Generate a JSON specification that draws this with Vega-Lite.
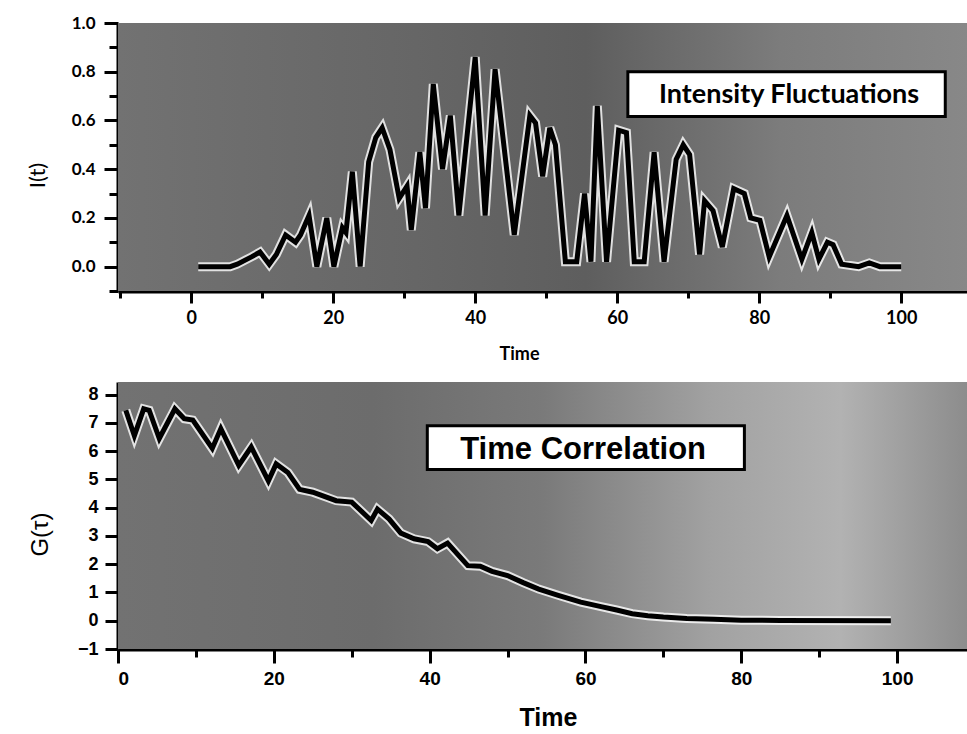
{
  "$schema": "https://vega.github.io/schema/vega-lite/v6.json",
  "background": "white",
  "padding": {"left": 26, "top": 14, "right": 0, "bottom": 0},
  "spacing": 19,
  "config": {
    "view": {"stroke": null},
    "axis": {
      "grid": false,
      "domainColor": "black",
      "domainWidth": 4,
      "tickColor": "black",
      "tickWidth": 3,
      "labelColor": "black",
      "titleColor": "black",
      "labelFontWeight": "bold",
      "labelOverlap": false
    }
  },
  "datasets": {
    "intensity": [
      {"t": 1, "I": 0.0}, {"t": 3, "I": 0.0}, {"t": 5.5, "I": 0.0}, {"t": 6.5, "I": 0.01},
      {"t": 8.5, "I": 0.04}, {"t": 9.7, "I": 0.06}, {"t": 11, "I": 0.01}, {"t": 12, "I": 0.05},
      {"t": 13.3, "I": 0.13}, {"t": 14.7, "I": 0.10}, {"t": 15.4, "I": 0.13}, {"t": 16.6, "I": 0.21},
      {"t": 17.7, "I": 0.0}, {"t": 19.1, "I": 0.20}, {"t": 20.1, "I": 0.0}, {"t": 21.3, "I": 0.16},
      {"t": 21.8, "I": 0.14}, {"t": 22.7, "I": 0.39}, {"t": 23.8, "I": 0.0}, {"t": 25, "I": 0.43},
      {"t": 26, "I": 0.53}, {"t": 26.9, "I": 0.57}, {"t": 28, "I": 0.48}, {"t": 29.3, "I": 0.28},
      {"t": 30.4, "I": 0.33}, {"t": 31, "I": 0.15}, {"t": 32.2, "I": 0.47}, {"t": 33, "I": 0.24},
      {"t": 34.1, "I": 0.75}, {"t": 35.4, "I": 0.40}, {"t": 36.5, "I": 0.62}, {"t": 37.7, "I": 0.21},
      {"t": 40, "I": 0.86}, {"t": 41.4, "I": 0.21}, {"t": 42.8, "I": 0.81}, {"t": 45.5, "I": 0.13},
      {"t": 47.7, "I": 0.62}, {"t": 48.5, "I": 0.59}, {"t": 49.5, "I": 0.37}, {"t": 50.5, "I": 0.57},
      {"t": 51.3, "I": 0.50}, {"t": 52.7, "I": 0.02}, {"t": 54.3, "I": 0.02}, {"t": 55.4, "I": 0.30},
      {"t": 56.3, "I": 0.02}, {"t": 57.2, "I": 0.66}, {"t": 58.5, "I": 0.02}, {"t": 60.2, "I": 0.56},
      {"t": 61.3, "I": 0.55}, {"t": 62.4, "I": 0.02}, {"t": 63.8, "I": 0.02}, {"t": 65.2, "I": 0.47},
      {"t": 66.6, "I": 0.02}, {"t": 68.3, "I": 0.44}, {"t": 69.3, "I": 0.50}, {"t": 70.2, "I": 0.46},
      {"t": 71.6, "I": 0.05}, {"t": 72.3, "I": 0.27}, {"t": 73.5, "I": 0.23}, {"t": 74.8, "I": 0.08},
      {"t": 76.4, "I": 0.32}, {"t": 77.9, "I": 0.30}, {"t": 78.8, "I": 0.20}, {"t": 80.1, "I": 0.19},
      {"t": 81.4, "I": 0.04}, {"t": 83.9, "I": 0.21}, {"t": 86, "I": 0.03}, {"t": 87.4, "I": 0.14},
      {"t": 88.4, "I": 0.03}, {"t": 89.6, "I": 0.10}, {"t": 90.4, "I": 0.09}, {"t": 91.6, "I": 0.01},
      {"t": 94, "I": 0.0}, {"t": 95.5, "I": 0.015}, {"t": 97, "I": 0.0}, {"t": 100, "I": 0.0}
    ],
    "corr": [
      {"t": 1, "G": 7.45}, {"t": 2.1, "G": 6.55}, {"t": 3.3, "G": 7.5}, {"t": 4, "G": 7.45},
      {"t": 5.3, "G": 6.45}, {"t": 7.3, "G": 7.5}, {"t": 8.5, "G": 7.15}, {"t": 9.6, "G": 7.1},
      {"t": 12.1, "G": 6.1}, {"t": 13.2, "G": 6.8}, {"t": 15.5, "G": 5.5}, {"t": 17.1, "G": 6.15},
      {"t": 19.3, "G": 4.95}, {"t": 20.3, "G": 5.55}, {"t": 21.8, "G": 5.25}, {"t": 23.3, "G": 4.65},
      {"t": 25, "G": 4.55}, {"t": 28, "G": 4.25}, {"t": 30, "G": 4.2}, {"t": 32.5, "G": 3.55},
      {"t": 33.3, "G": 3.95}, {"t": 34.8, "G": 3.6}, {"t": 36.3, "G": 3.1}, {"t": 38, "G": 2.9},
      {"t": 39.8, "G": 2.8}, {"t": 41, "G": 2.55}, {"t": 42.3, "G": 2.75}, {"t": 44.9, "G": 1.95},
      {"t": 46.5, "G": 1.93}, {"t": 48, "G": 1.75}, {"t": 50, "G": 1.6}, {"t": 52, "G": 1.35},
      {"t": 54, "G": 1.12}, {"t": 56.5, "G": 0.9}, {"t": 59.4, "G": 0.66}, {"t": 62, "G": 0.5},
      {"t": 64, "G": 0.38}, {"t": 66, "G": 0.25}, {"t": 68, "G": 0.18}, {"t": 70, "G": 0.13},
      {"t": 73, "G": 0.08}, {"t": 76.5, "G": 0.05}, {"t": 80, "G": 0.02}, {"t": 85, "G": 0.01},
      {"t": 99.2, "G": 0.0}
    ]
  },
  "vconcat": [
    {
      "width": 850,
      "height": 268,
      "layer": [
        {
          "data": {"values": [{}]},
          "mark": {
            "type": "rect",
            "color": {
              "gradient": "linear", "x1": 0, "x2": 1, "y1": 0, "y2": 0,
              "stops": [
                {"offset": 0, "color": "#727272"},
                {"offset": 0.35, "color": "#666666"},
                {"offset": 0.55, "color": "#5e5e5e"},
                {"offset": 0.78, "color": "#7c7c7c"},
                {"offset": 1, "color": "#888888"}
              ]
            }
          },
          "encoding": {
            "x": {
              "datum": -10.3, "type": "quantitative",
              "scale": {"domain": [-10.3, 109.4], "nice": false, "zero": false},
              "axis": {
                "title": "Time",
                "values": [-10, 0, 10, 20, 30, 40, 50, 60, 70, 80, 90, 100],
                "tickCount": 500,
                "format": "d",
                "labelExpr": "datum.value % 20 === 0 ? datum.label : ''",
                "tickSize": 12,
                "tickDash": {"condition": {"test": "datum.value % 20 !== 0", "value": [7, 30]}, "value": []},
                "labelOverlap": false,
                "labelFont": "Lato",
                "labelFontSize": 18,
                "labelPadding": 6,
                "titleFont": "Lato",
                "titleFontSize": 18,
                "titleFontWeight": "bold",
                "titleX": 401,
                "titleY": 63,
                "titleBaseline": "middle",
                "titleAlign": "center"
              }
            },
            "x2": {"datum": 109.4},
            "y": {
              "datum": -0.1, "type": "quantitative",
              "scale": {"domain": [-0.1, 1.0], "nice": false, "zero": false},
              "axis": {
                "title": "I(t)",
                "values": [-0.1, 0, 0.1, 0.2, 0.3, 0.4, 0.5, 0.6, 0.7, 0.8, 0.9, 1.0],
                "tickCount": 500,
                "format": ".1f",
                "labelExpr": "abs(round(datum.value * 10)) % 2 === 0 ? datum.label : ''",
                "tickSize": 14,
                "tickDash": {"condition": {"test": "abs(round(datum.value * 10)) % 2 !== 0", "value": [9, 30]}, "value": []},
                "labelOverlap": false,
                "labelFont": "Lato",
                "labelFontSize": 17,
                "labelPadding": 9,
                "titleFont": "Lato",
                "titleFontSize": 22,
                "titleFontWeight": "normal",
                "titleX": -81,
                "titleY": 152,
                "titleBaseline": "middle",
                "titleAlign": "center"
              }
            },
            "y2": {"datum": 1.0}
          }
        },
        {
          "data": {"name": "intensity"},
          "mark": {"type": "line", "color": "white", "strokeWidth": 9, "strokeJoin": "miter", "opacity": 0.8},
          "encoding": {
            "x": {"field": "t", "type": "quantitative"},
            "y": {"field": "I", "type": "quantitative"}
          }
        },
        {
          "data": {"name": "intensity"},
          "mark": {"type": "line", "color": "black", "strokeWidth": 5, "strokeJoin": "miter"},
          "encoding": {
            "x": {"field": "t", "type": "quantitative"},
            "y": {"field": "I", "type": "quantitative"}
          }
        },
        {
          "data": {"values": [{}]},
          "mark": {"type": "rect", "fill": "white", "stroke": "black", "strokeWidth": 3},
          "encoding": {
            "x": {"datum": 61.5, "type": "quantitative"},
            "x2": {"datum": 106.2},
            "y": {"datum": 0.80, "type": "quantitative"},
            "y2": {"datum": 0.616}
          }
        },
        {
          "data": {"values": [{}]},
          "mark": {"type": "text", "text": "Intensity Fluctuations", "font": "Lato", "fontWeight": "bold", "fontSize": 27, "color": "black", "baseline": "middle", "align": "center"},
          "encoding": {
            "x": {"datum": 84.2, "type": "quantitative"},
            "y": {"datum": 0.706, "type": "quantitative"}
          }
        }
      ]
    },
    {
      "width": 850,
      "height": 267,
      "layer": [
        {
          "data": {"values": [{}]},
          "mark": {
            "type": "rect",
            "color": {
              "gradient": "linear", "x1": 0, "x2": 1, "y1": 0, "y2": 0,
              "stops": [
                {"offset": 0, "color": "#727272"},
                {"offset": 0.3, "color": "#6c6c6c"},
                {"offset": 0.5, "color": "#7a7a7a"},
                {"offset": 0.7, "color": "#a2a2a2"},
                {"offset": 0.85, "color": "#b2b2b2"},
                {"offset": 1, "color": "#8c8c8c"}
              ]
            }
          },
          "encoding": {
            "x": {
              "datum": 0, "type": "quantitative",
              "scale": {"domain": [0, 109.1], "nice": false, "zero": false},
              "axis": {
                "title": "Time",
                "values": [0, 10, 20, 30, 40, 50, 60, 70, 80, 90, 100],
                "tickCount": 500,
                "format": "d",
                "labelExpr": "datum.value % 20 === 0 ? datum.label : ''",
                "tickSize": 14,
                "tickDash": {"condition": {"test": "datum.value % 20 !== 0", "value": [8, 30]}, "value": []},
                "labelOverlap": false,
                "labelFont": "Liberation Sans",
                "labelFontSize": 19,
                "labelPadding": 6,
                "titleFont": "Liberation Sans",
                "titleFontSize": 25,
                "titleFontWeight": "bold",
                "titleX": 430,
                "titleY": 68,
                "titleBaseline": "middle",
                "titleAlign": "center"
              }
            },
            "x2": {"datum": 109.1},
            "y": {
              "datum": -1, "type": "quantitative",
              "scale": {"domain": [-1, 8.45], "nice": false, "zero": false},
              "axis": {
                "title": "G(τ)",
                "values": [-1, -0.5, 0, 0.5, 1, 1.5, 2, 2.5, 3, 3.5, 4, 4.5, 5, 5.5, 6, 6.5, 7, 7.5, 8],
                "tickCount": 500,
                "format": "d",
                "labelExpr": "datum.value % 1 === 0 ? datum.label : ''",
                "tickSize": 13,
                "tickDash": {"condition": {"test": "datum.value % 1 !== 0", "value": [8, 30]}, "value": []},
                "labelOverlap": false,
                "labelFont": "Liberation Sans",
                "labelFontSize": 18,
                "labelPadding": 7,
                "titleFont": "Liberation Sans",
                "titleFontSize": 24,
                "titleFontWeight": "normal",
                "titleX": -78,
                "titleY": 152,
                "titleBaseline": "middle",
                "titleAlign": "center"
              }
            },
            "y2": {"datum": 8.45}
          }
        },
        {
          "data": {"name": "corr"},
          "mark": {"type": "line", "color": "white", "strokeWidth": 9, "strokeJoin": "miter", "opacity": 0.8},
          "encoding": {
            "x": {"field": "t", "type": "quantitative"},
            "y": {"field": "G", "type": "quantitative"}
          }
        },
        {
          "data": {"name": "corr"},
          "mark": {"type": "line", "color": "black", "strokeWidth": 5, "strokeJoin": "miter"},
          "encoding": {
            "x": {"field": "t", "type": "quantitative"},
            "y": {"field": "G", "type": "quantitative"}
          }
        },
        {
          "data": {"values": [{}]},
          "mark": {"type": "rect", "fill": "white", "stroke": "black", "strokeWidth": 3},
          "encoding": {
            "x": {"datum": 39.7, "type": "quantitative"},
            "x2": {"datum": 80.4},
            "y": {"datum": 6.9, "type": "quantitative"},
            "y2": {"datum": 5.35}
          }
        },
        {
          "data": {"values": [{}]},
          "mark": {"type": "text", "text": "Time Correlation", "font": "Liberation Sans", "fontWeight": "bold", "fontSize": 31, "color": "black", "baseline": "middle", "align": "center"},
          "encoding": {
            "x": {"datum": 59.7, "type": "quantitative"},
            "y": {"datum": 6.05, "type": "quantitative"}
          }
        }
      ]
    }
  ]
}
